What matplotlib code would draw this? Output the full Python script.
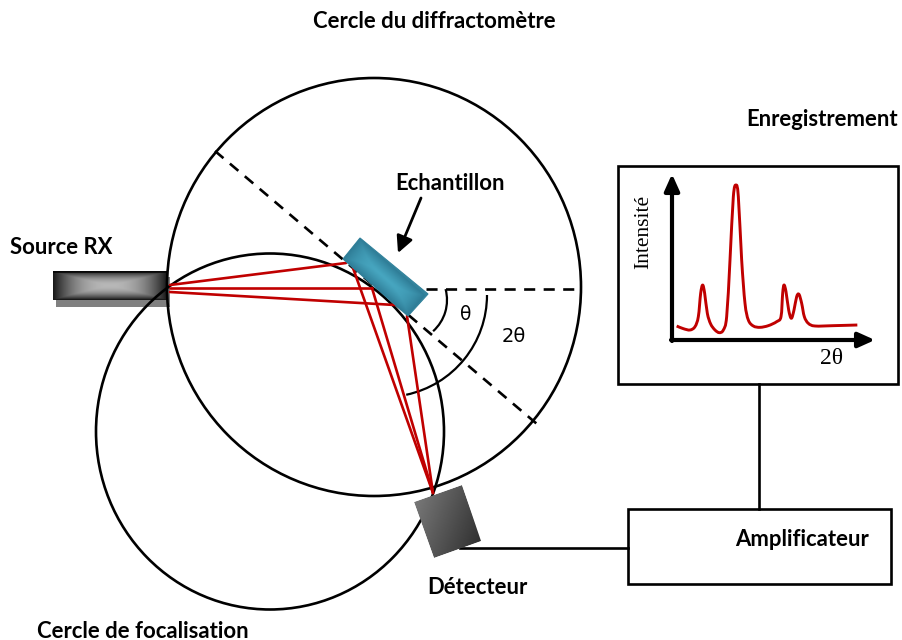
import numpy as np
import matplotlib
matplotlib.use("Agg")
import matplotlib.pyplot as plt
from matplotlib.patches import Ellipse, Rectangle, Arc, Polygon, PathPatch
from matplotlib.path import Path
from matplotlib.transforms import Affine2D
from matplotlib.colors import LinearSegmentedColormap

# Diagram geometry (pixel units)
big_circle = (374, 287, 207, 209)
focus_circle = (270, 431.5, 174, 178)
ray_in_x = [[170, 346], [170, 372], [170, 395]]
ray_in_y = [[285, 263], [288, 288], [292, 305]]
ray_out_x = [[353, 433], [372, 433], [407, 433]]
ray_out_y = [[268, 493], [288, 493], [316, 493]]
dash_diag_x, dash_diag_y = [215, 537], [151, 424]
dash_horiz_x, dash_horiz_y = [426, 581], [289, 289]
sample_corners = [(343, 259), (360, 238), (428, 294), (408, 316)]
detector_corners = [(414, 502), (462, 485), (481, 541), (434, 558)]
curve_zoom_x = [170,190,210,225,235,242,248,254,262,272,285,298,310,320,330,340,348,355,365,375,385,400,420,445,470,483,488,492,498,506,514,522,530,537,545,553,565,585,640,712]
curve_zoom_y = [498,506,510,500,470,400,375,400,460,492,510,518,510,470,300,110,75,110,300,430,480,498,502,497,485,470,400,375,395,450,475,450,410,403,430,470,490,498,497,495]
labels = ["Cercle du diffractomètre", "Enregistrement", "Echantillon", "Source RX",
          "Amplificateur", "Détecteur", "Cercle de focalisation"]
label_x = [434, 822, 450, 61, 802, 477, 143]
label_y = [22, 120, 183, 247, 539, 587, 631]

fig = plt.figure(figsize=(9.02, 6.40), dpi=100)
ax = fig.add_axes([0, 0, 1, 1])
ax.set_xlim(0, 902)
ax.set_ylim(640, 0)
ax.axis("off")

# source
ax.add_patch(Rectangle((56, 277), 114, 30, fc="#808080", ec="none", zorder=1))
u = np.linspace(-1, 1, 115)
v = np.linspace(-1, 1, 31)
U, V = np.meshgrid(u, v)
G = np.clip(0.72 - 0.62*np.maximum(np.abs(U)**2.2, np.abs(V)**2), 0.02, 1)
G[:2, :] = 0.03
ax.imshow(G, cmap="gray", vmin=0, vmax=1, extent=(53, 167, 300, 271), aspect="auto", zorder=2, interpolation="bilinear")
ax.set_xlim(0, 902)
ax.set_ylim(640, 0)

# circles
for cx, cy, rx, ry in (big_circle, focus_circle):
    ax.add_patch(Ellipse((cx, cy), 2*rx, 2*ry, fc="none", ec="black", lw=1.9, zorder=3))

# rays
for xs, ys in zip(ray_in_x + ray_out_x, ray_in_y + ray_out_y):
    ax.plot(xs, ys, color="#c00000", lw=1.9, zorder=4, solid_capstyle="round")

# dashed lines
ax.plot(dash_diag_x, dash_diag_y, color="black", lw=1.9, dashes=(4.2, 3.2), zorder=3)
ax.plot(dash_horiz_x, dash_horiz_y, color="black", lw=1.9, dashes=(4.2, 3.2), zorder=3)

# angle arcs
ax.add_patch(Arc((405, 300), 84, 84, theta1=-15, theta2=48, ec="black", lw=1.6, zorder=3))
ax.add_patch(Arc((385, 295), 204, 204, theta1=0, theta2=78, ec="black", lw=1.6, zorder=3))


def gradient_quad(corners, arr, cmap, vmin=0, vmax=1, z=5):
    p0, p1, p2, p3 = [np.array(c, float) for c in corners]
    ex = p1 - p0
    ey = p3 - p0
    h, w = arr.shape
    aff = Affine2D.from_values(ex[0]/w, ex[1]/w, ey[0]/h, ey[1]/h, p0[0], p0[1])
    im = ax.imshow(arr, cmap=cmap, vmin=vmin, vmax=vmax, extent=(0, w, 0, h), origin="lower",
                   interpolation="bilinear", aspect="auto", zorder=z)
    im.set_transform(aff + ax.transData)
    poly = Polygon(corners, closed=True, transform=ax.transData, fc="none", ec="none")
    ax.add_patch(poly)
    im.set_clip_path(poly)
    ax.set_xlim(0, 902)
    ax.set_ylim(640, 0)


# sample
teal = LinearSegmentedColormap.from_list("teal", ["#2f7d97", "#47a6c0"])
ax.add_patch(Polygon(sample_corners, closed=True, fc="#33839c", ec="#33839c", lw=0.8, zorder=4.5))
SX, SY = np.meshgrid(np.linspace(-1, 1, 60), np.linspace(-1, 1, 80))
gradient_quad(sample_corners, 1 - np.maximum(np.abs(SX)**1.2, np.abs(SY)**3), teal)

# detector
DX, DY = np.meshgrid(np.linspace(0, 1, 60), np.linspace(0, 1, 60))
gradient_quad(detector_corners, 0.47 - 0.28*(DX + DY)/2, "gray")

# arrow to sample
ax.annotate("", xy=(398, 253), xytext=(421, 198),
            arrowprops=dict(arrowstyle="-|>,head_width=0.5,head_length=1.0", color="black", lw=2, shrinkA=0, shrinkB=0), zorder=6)

# boxes and wires
ax.add_patch(Rectangle((618, 166), 280, 218, fc="white", ec="black", lw=1.9, zorder=2))
ax.add_patch(Rectangle((628, 509), 263, 75, fc="white", ec="black", lw=1.9, zorder=2))
ax.plot([759, 759], [384, 509], color="black", lw=1.9, zorder=2)
ax.plot([460, 628], [548, 548], color="black", lw=1.9, zorder=2)

# inner plot axes
for start, end in (((672, 341), (672, 174)), ((671, 340), (875, 340))):
    ax.annotate("", xy=end, xytext=start,
                arrowprops=dict(arrowstyle="-|>,head_width=0.45,head_length=1.0", color="black", lw=3, shrinkA=0, shrinkB=0), zorder=6)

# recorded diffractogram, drawn through its points as a smooth path
px = 620 + np.array(curve_zoom_x)/3
py = 160 + np.array(curve_zoom_y)/3
pts = np.column_stack([px, py])
verts = [pts[0]]
codes = [Path.MOVETO]
for i in range(len(pts) - 1):
    p0 = pts[max(i - 1, 0)]
    p1 = pts[i]
    p2 = pts[i + 1]
    p3 = pts[min(i + 2, len(pts) - 1)]
    verts += [p1 + (p2 - p0)/6, p2 - (p3 - p1)/6, p2]
    codes += [Path.CURVE4]*3
ax.add_patch(PathPatch(Path(verts, codes), fc="none", ec="#c00000", lw=2.1, zorder=6, joinstyle="round"))

# text
for t, x, y in zip(labels, label_x, label_y):
    ax.text(x, y, t, family="Lato", weight="bold", fontsize=15.9, ha="center", va="center", color="black", zorder=7)
ax.text(644, 232, "Intensité", family="Liberation Serif", fontsize=15.5, rotation=90, ha="center", va="center", zorder=7)
ax.text(832, 358, "2θ", family="Liberation Serif", fontsize=17, ha="center", va="center", zorder=7)
ax.text(466, 314, "θ", family="DejaVu Sans", fontsize=13.5, ha="center", va="center", zorder=7)
ax.text(514, 337, "2θ", family="DejaVu Sans", fontsize=14, ha="center", va="center", zorder=7)

fig.savefig("out.png", dpi=100)
